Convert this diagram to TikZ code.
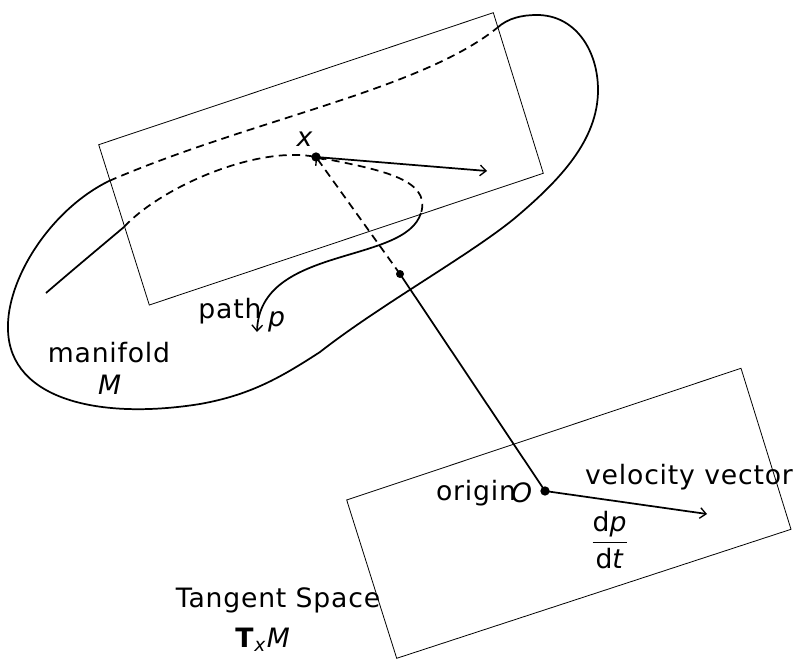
\documentclass[tikz,border=0pt]{standalone}
\usepackage{amsmath}
\usepackage{fontspec}
\usetikzlibrary{arrows.meta}
\setmainfont{DejaVu Sans}[LetterSpace=3]
\begin{document}
\begin{tikzpicture}[x=0.75pt,y=-0.75pt,
  thinline/.style={line width=0.6pt},
  curve/.style={line width=1.3pt},
  dsh/.style={curve, dash pattern=on 6pt off 4pt},
  tip/.style={-{Straight Barb[length=4.5pt,width=8pt,line width=1pt]}},
  lbl/.style={inner sep=0pt, font=\fontsize{20}{24}\selectfont},
  dotmark/.style={circle, fill=black, inner sep=0pt, minimum size=7pt}
]
\useasboundingbox (0,0) rectangle (798,659);
% tangent planes
\draw[thinline] (98.7,144.7) -- (493.3,12.7) -- (543.3,173.3) -- (149.3,305) -- cycle;
\draw[thinline] (346.7,500) -- (741,368.3) -- (791,529.3) -- (396.7,658.3) -- cycle;
% key points
\coordinate (X) at (316,157);
\coordinate (P) at (400,274);
\coordinate (O) at (545,491);
\coordinate (vx) at (487,171);
\coordinate (vo) at (707,514);
\coordinate (m0) at (497,28);
\coordinate (m1) at (109,181);
\coordinate (a0) at (46,293);
\coordinate (a1) at (124,227);
\coordinate (a2) at (421,213);
\coordinate (a3) at (257,332);
% manifold outline
\draw[curve] (m0) .. controls (508,18) and (522,15) .. (537,15)
  .. controls (575,15) and (598,50) .. (598,90)
  .. controls (598,140) and (560,180) .. (515,218)
  .. controls (470,255) and (380,305) .. (320,352)
  .. controls (280,378) and (250,395) .. (200,404)
  .. controls (100,420) and (10,400) .. (8,330)
  .. controls (6,280) and (50,210) .. (m1);
\draw[dsh] (m1) .. controls (250,120) and (420,90) .. (m0);
% path p
\draw[curve] (a0) .. controls (75,268) and (105,243) .. (a1);
\draw[dsh] (a1) .. controls (160,188) and (256,145) .. (X) .. controls (376,169) and (432,178) .. (a2);
\draw[curve,tip] (a2) .. controls (405,265) and (260,245) .. (a3);
% vectors
\draw[curve,tip] (X) -- (vx);
\draw[curve] (P) -- (O);
\draw[curve,dash pattern=on 6pt off 4pt,tip] (P) -- (X);
\draw[curve,tip] (O) -- (vo);
\node[dotmark] (xdot) at (X) {};
\node[dotmark, minimum size=6pt] (pdot) at (P) {};
\node[dotmark] (odot) at (O) {};
% labels
\node[lbl] (xl) at (305,139) {\textit{x}};
\node[lbl] (pathl) at (230,311) {path};
\node[lbl] (pl) at (277,322) {\textit{p}};
\node[lbl] (manl) at (109,353) {manifold};
\node[lbl] (Ml) at (110,385) {\textit{M}};
\node[lbl] (origl) at (476,493) {origin};
\node[lbl] (Ol) at (522,493) {\textit{O}};
\node[lbl] (vell) at (689,477) {velocity vector};
\node[lbl] (dpdt) at (610,540) {$\displaystyle\frac{\mbox{d\textit{p}}}{\mbox{d\textit{t}}}$};
\node[lbl] (tsl) at (278,600) {Tangent Space};
\node[lbl] (txm) at (263,640) {$\mbox{\textbf{T}}_{\text{\textit{x}}}\mbox{\textit{M}}$};
\end{tikzpicture}
\end{document}
